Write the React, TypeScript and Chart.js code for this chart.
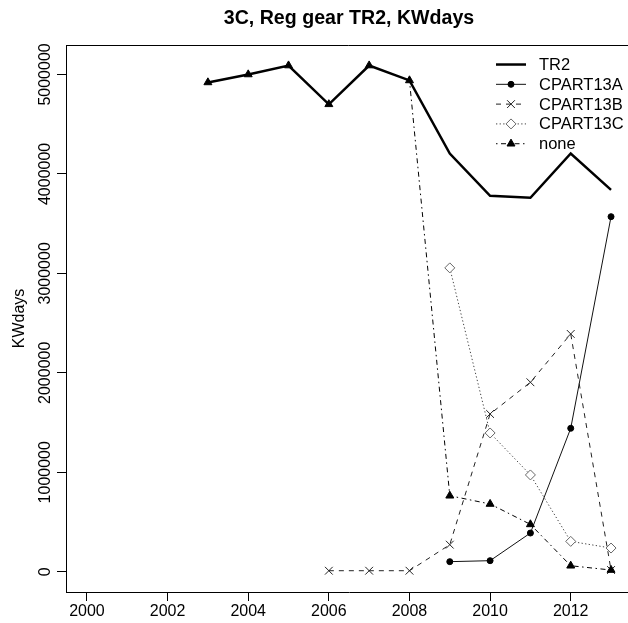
import React, { useEffect, useRef } from "react";
import { Chart, registerables } from "chart.js";
import { drawPoint } from "chart.js/helpers";

Chart.register(...registerables);

const TITLE = "3C, Reg gear TR2, KWdays";
const Y_TITLE = "KWdays";

const years = [2003, 2004, 2005, 2006, 2007, 2008, 2009, 2010, 2011, 2012, 2013];
const tr2 = [4920000, 5000000, 5090000, 4700000, 5090000, 4940000, 4205000, 3780000, 3760000, 4205000, 3840000];
const cpart13a = [null, null, null, null, null, null, 101000, 111000, 389000, 1442000, 3570000];
const cpart13b = [null, null, null, 10000, 10000, 10000, 272000, 1586000, 1905000, 2391000, 17000];
const cpart13c = [null, null, null, null, null, null, 3055000, 1395000, 973000, 305000, 238000];
const none = [4920000, 5000000, 5090000, 4700000, 5090000, 4940000, 764000, 681000, 476000, 60000, 17000];

const seriesNames = ["TR2", "CPART13A", "CPART13B", "CPART13C", "none"];
const xTicks = [2000, 2002, 2004, 2006, 2008, 2010, 2012];
const yTicks = [0, 1000000, 2000000, 3000000, 4000000, 5000000];

const FONT = '"Liberation Sans", Arial, Helvetica, sans-serif';

function toPoints(arr: (number | null)[]) {
  const out: { x: number; y: number }[] = [];
  arr.forEach((v, i) => {
    if (v !== null) out.push({ x: years[i], y: v });
  });
  return out;
}

const boxPlugin = {
  id: "rBox",
  afterDraw(chart: any) {
    const { ctx, chartArea } = chart;
    ctx.save();
    ctx.strokeStyle = "#000";
    ctx.lineWidth = 1;
    const t = Math.round(chartArea.top) + 0.5;
    const r = Math.round(chartArea.right) - 0.5;
    ctx.beginPath();
    ctx.moveTo(chartArea.left, t);
    ctx.lineTo(r, t);
    ctx.lineTo(r, chartArea.bottom);
    ctx.stroke();
    ctx.restore();
  },
};

const legendPlugin = {
  id: "rLegend",
  afterDraw(chart: any) {
    const { ctx, chartArea } = chart;
    const x0 = chartArea.right - 136;
    const x1 = x0 + 30;
    const tx = x0 + 43;
    const y0 = chartArea.top + 19.5;
    const dy = 19.8;
    chart.data.datasets.forEach((ds: any, i: number) => {
      const y = y0 + i * dy;
      ctx.save();
      ctx.strokeStyle = ds.borderColor;
      ctx.lineWidth = ds.borderWidth;
      ctx.setLineDash(ds.borderDash || []);
      ctx.beginPath();
      ctx.moveTo(x0, y);
      ctx.lineTo(x1, y);
      ctx.stroke();
      ctx.setLineDash([]);
      if (ds.pointRadius > 0) {
        ctx.fillStyle = ds.pointBackgroundColor;
        ctx.strokeStyle = ds.pointBorderColor;
        ctx.lineWidth = ds.pointBorderWidth;
        drawPoint(
          ctx,
          { pointStyle: ds.pointStyle, radius: ds.pointRadius, borderWidth: ds.pointBorderWidth, rotation: 0 } as any,
          (x0 + x1) / 2,
          y
        );
      }
      ctx.fillStyle = "#000";
      ctx.font = `16.5px ${FONT}`;
      ctx.textBaseline = "middle";
      ctx.textAlign = "left";
      ctx.fillText(ds.label, tx, y + 1);
      ctx.restore();
    });
  },
};

export default function App() {
  const ref = useRef<HTMLCanvasElement | null>(null);

  useEffect(() => {
    if (!ref.current) return;
    const chart = new Chart(ref.current, {
      type: "line",
      data: {
        datasets: [
          {
            label: seriesNames[0],
            data: toPoints(tr2),
            borderColor: "#000",
            borderWidth: 2.5,
            pointRadius: 0,
            pointBackgroundColor: "#000",
            pointBorderColor: "#000",
            pointBorderWidth: 0,
            order: 5,
          } as any,
          {
            label: seriesNames[1],
            data: toPoints(cpart13a),
            borderColor: "#111",
            borderWidth: 1,
            pointStyle: "circle",
            pointRadius: 3,
            pointBackgroundColor: "#000",
            pointBorderColor: "#000",
            pointBorderWidth: 1,
            order: 4,
          },
          {
            label: seriesNames[2],
            data: toPoints(cpart13b),
            borderColor: "#222",
            borderWidth: 1,
            borderDash: [5, 5],
            pointStyle: "crossRot",
            pointRadius: 5.5,
            pointBackgroundColor: "#222",
            pointBorderColor: "#222",
            pointBorderWidth: 1,
            order: 3,
          },
          {
            label: seriesNames[3],
            data: toPoints(cpart13c),
            borderColor: "#444",
            borderWidth: 1,
            borderDash: [1.3, 2.3],
            pointStyle: "rectRot",
            pointRadius: 5,
            pointBackgroundColor: "#fff",
            pointBorderColor: "#666",
            pointBorderWidth: 1,
            order: 2,
          },
          {
            label: seriesNames[4],
            data: toPoints(none),
            borderColor: "#000",
            borderWidth: 1,
            borderDash: [1.5, 3.5, 5, 3.5],
            pointStyle: "triangle",
            pointRadius: 4.6,
            pointBackgroundColor: "#000",
            pointBorderColor: "#000",
            pointBorderWidth: 1,
            order: 1,
          },
        ],
      },
      options: {
        animation: false,
        responsive: false,
        devicePixelRatio: 1,
        events: [],
        layout: { padding: { top: 0, left: 0, right: 8, bottom: 0 } },
        elements: { line: { tension: 0 } },
        plugins: {
          legend: { display: false },
          tooltip: { enabled: false },
          title: {
            display: true,
            text: TITLE,
            fullSize: false,
            color: "#000",
            font: { family: FONT, size: 19.6, weight: "bold" },
            padding: { top: 7, bottom: 14.5 },
          },
        },
        scales: {
          x: {
            type: "linear",
            min: 1999.48,
            max: 2013.52,
            afterBuildTicks: (s: any) => {
              s.ticks = xTicks.map((v) => ({ value: v }));
            },
            afterFit: (s: any) => {
              s.height = 31;
            },
            ticks: {
              callback: (v: any) => String(v),
              color: "#000",
              font: { family: FONT, size: 16 },
              padding: 1,
              maxRotation: 0,
              minRotation: 0,
              autoSkip: false,
            },
            grid: { drawOnChartArea: false, drawTicks: true, tickLength: 9, color: "#000", lineWidth: 1 },
            border: { display: true, color: "#000", width: 1 },
          },
          y: {
            type: "linear",
            min: -204000,
            max: 5296000,
            afterBuildTicks: (s: any) => {
              s.ticks = yTicks.map((v) => ({ value: v }));
            },
            afterFit: (s: any) => {
              s.width = 66;
            },
            ticks: {
              callback: (v: any) => String(v),
              color: "#000",
              font: { family: FONT, size: 16 },
              minRotation: 90,
              maxRotation: 90,
              crossAlign: "center",
              padding: -20,
              autoSkip: false,
            },
            grid: { drawOnChartArea: false, drawTicks: true, tickLength: 9, color: "#000", lineWidth: 1 },
            border: { display: true, color: "#000", width: 1 },
            title: {
              display: true,
              text: Y_TITLE,
              color: "#000",
              font: { family: FONT, size: 16 },
              padding: { top: 10, bottom: 0 },
            },
          },
        },
      },
      plugins: [boxPlugin, legendPlugin],
    } as any);
    return () => chart.destroy();
  }, []);

  return (
    <div
      style={{
        position: "fixed",
        left: 0,
        top: 0,
        width: 628,
        height: 623,
        overflow: "hidden",
        background: "#fff",
      }}
    >
      <canvas ref={ref} width={640} height={623} style={{ width: 640, height: 623, display: "block" }} />
    </div>
  );
}
